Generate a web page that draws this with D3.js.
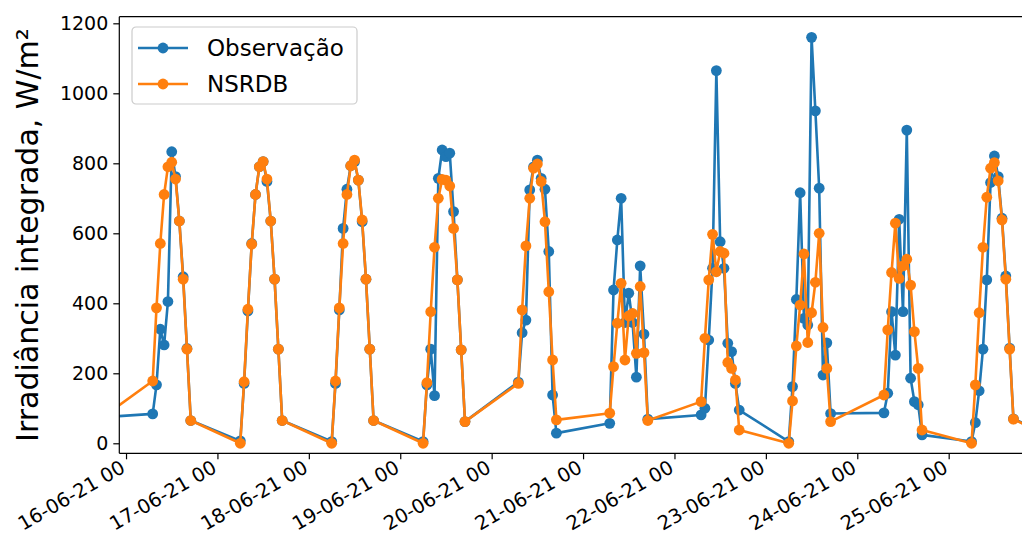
<!DOCTYPE html>
<html>
<head>
<meta charset="utf-8">
<script src="https://cdn.jsdelivr.net/npm/d3@7"></script>
<style>
  body { margin: 0; background: #fff; }
  text { font-family: "DejaVu Sans", sans-serif; fill: #000; }
</style>
</head>
<body>
<svg id="chart" width="1022" height="537"></svg>
<script>
// Hourly timestamps (UTC) of the daytime samples
const timestamps = [
  "2021-06-15 17",
  "2021-06-16 07","2021-06-16 08","2021-06-16 09","2021-06-16 10","2021-06-16 11","2021-06-16 12","2021-06-16 13","2021-06-16 14","2021-06-16 15","2021-06-16 16","2021-06-16 17",
  "2021-06-17 06","2021-06-17 07","2021-06-17 08","2021-06-17 09","2021-06-17 10","2021-06-17 11","2021-06-17 12","2021-06-17 13","2021-06-17 14","2021-06-17 15","2021-06-17 16","2021-06-17 17",
  "2021-06-18 06","2021-06-18 07","2021-06-18 08","2021-06-18 09","2021-06-18 10","2021-06-18 11","2021-06-18 12","2021-06-18 13","2021-06-18 14","2021-06-18 15","2021-06-18 16","2021-06-18 17",
  "2021-06-19 06","2021-06-19 07","2021-06-19 08","2021-06-19 09","2021-06-19 10","2021-06-19 11","2021-06-19 12","2021-06-19 13","2021-06-19 14","2021-06-19 15","2021-06-19 16","2021-06-19 17",
  "2021-06-20 07","2021-06-20 08","2021-06-20 09","2021-06-20 10","2021-06-20 11","2021-06-20 12","2021-06-20 13","2021-06-20 14","2021-06-20 15","2021-06-20 16","2021-06-20 17",
  "2021-06-21 07","2021-06-21 08","2021-06-21 09","2021-06-21 10","2021-06-21 11","2021-06-21 12","2021-06-21 13","2021-06-21 14","2021-06-21 15","2021-06-21 16","2021-06-21 17",
  "2021-06-22 07","2021-06-22 08","2021-06-22 09","2021-06-22 10","2021-06-22 11","2021-06-22 12","2021-06-22 13","2021-06-22 14","2021-06-22 15","2021-06-22 16","2021-06-22 17",
  "2021-06-23 06","2021-06-23 07","2021-06-23 08","2021-06-23 09","2021-06-23 10","2021-06-23 11","2021-06-23 12","2021-06-23 13","2021-06-23 14","2021-06-23 15","2021-06-23 16","2021-06-23 17",
  "2021-06-24 07","2021-06-24 08","2021-06-24 09","2021-06-24 10","2021-06-24 11","2021-06-24 12","2021-06-24 13","2021-06-24 14","2021-06-24 15","2021-06-24 16","2021-06-24 17",
  "2021-06-25 06","2021-06-25 07","2021-06-25 08","2021-06-25 09","2021-06-25 10","2021-06-25 11","2021-06-25 12","2021-06-25 13","2021-06-25 14","2021-06-25 15","2021-06-25 16","2021-06-25 17",
  "2021-06-26 06"
];

// Measured irradiance (W/m²)
const observacao = [
  74,
  84, 167, 326, 281, 405, 833, 762, 635, 476, 271, 65,
  7, 171, 378, 571, 711, 790, 805, 748, 635, 469, 269, 65,
  5, 171, 381, 614, 726, 793, 805, 752, 633, 469, 269, 65,
  5, 167, 269, 136, 757, 838, 819, 829, 662, 467, 267, 62,
  175, 316, 352, 724, 790, 809, 757, 726, 548, 138, 29,
  57, 438, 581, 700, 345, 429, 345, 189, 507, 312, 69,
  81, 100, 295, 500, 1065, 576, 500, 286, 262, 171, 95,
  5, 162, 411, 716, 357, 338, 1160, 950, 729, 195, 287, 85,
  87, 143, 376, 252, 640, 376, 895, 186, 119, 110, 24,
  5, 59, 150, 269, 467, 745, 821, 762, 643, 478, 272, 70,
  5
];

// NSRDB irradiance (W/m²)
const nsrdb = [
  68,
  178, 387, 571, 711, 790, 803, 755, 635, 469, 269, 65,
  0, 176, 383, 569, 711, 790, 805, 755, 635, 469, 269, 65,
  0, 178, 387, 571, 711, 793, 809, 752, 638, 469, 269, 65,
  0, 173, 376, 560, 700, 754, 752, 735, 614, 467, 267, 62,
  171, 381, 564, 700, 786, 798, 748, 633, 433, 238, 67,
  86, 219, 343, 457, 238, 364, 371, 257, 448, 259, 65,
  119, 300, 467, 597, 490, 548, 543, 231, 214, 181, 38,
  0, 121, 278, 395, 541, 288, 373, 460, 600, 331, 214, 62,
  138, 324, 488, 629, 471, 507, 526, 452, 319, 214, 38,
  0, 167, 373, 560, 703, 786, 802, 750, 638, 469, 269, 69,
  0
];

const seriesNames = ["Observação", "NSRDB"];
const seriesColors = ["#1f77b4", "#ff7f0e"];
const xTickDays = ["2021-06-16","2021-06-17","2021-06-18","2021-06-19","2021-06-20",
                   "2021-06-21","2021-06-22","2021-06-23","2021-06-24","2021-06-25"];
const yTicks = [0, 200, 400, 600, 800, 1000, 1200];
const yLabel = "Irradiância integrada, W/m²";
const xDomain = ["2021-06-15 22:14", "2021-06-25 20:18"];
const yDomain = [-28.6, 1218.9];

const parseHour = d3.utcParse("%Y-%m-%d %H");
const parseMin = d3.utcParse("%Y-%m-%d %H:%M");
const parseDay = d3.utcParse("%Y-%m-%d");

const plot = { left: 119.3, right: 1026, top: 16.7, bottom: 453.3 };

const svg = d3.select("#chart");

const x = d3.scaleUtc()
  .domain(xDomain.map(parseMin))
  .range([plot.left, plot.right]);
const y = d3.scaleLinear()
  .domain(yDomain)
  .range([plot.bottom, plot.top]);

const times = timestamps.map(parseHour);
const series = [observacao, nsrdb].map((vals, i) => ({
  name: seriesNames[i],
  color: seriesColors[i],
  points: vals.map((v, j) => ({ t: times[j], v }))
}));

svg.append("defs").append("clipPath").attr("id", "plot-clip")
  .append("rect")
  .attr("x", plot.left).attr("y", plot.top)
  .attr("width", plot.right - plot.left).attr("height", plot.bottom - plot.top);

const line = d3.line().x(d => x(d.t)).y(d => y(d.v));

const marks = svg.append("g").attr("clip-path", "url(#plot-clip)");
series.forEach(s => {
  const g = marks.append("g");
  g.append("path")
    .datum(s.points)
    .attr("d", line)
    .attr("fill", "none")
    .attr("stroke", s.color)
    .attr("stroke-width", 2.6)
    .attr("stroke-linejoin", "round")
    .attr("stroke-linecap", "square");
  g.selectAll("circle")
    .data(s.points)
    .join("circle")
    .attr("cx", d => x(d.t))
    .attr("cy", d => y(d.v))
    .attr("r", 5.4)
    .attr("fill", s.color);
});

// Frame
[[plot.left, plot.top, plot.left, plot.bottom],
 [plot.left, plot.bottom, plot.right, plot.bottom],
 [plot.left, plot.top, plot.right, plot.top],
 [plot.right, plot.top, plot.right, plot.bottom]].forEach(([x1, y1, x2, y2]) => {
  svg.append("line").attr("x1", x1).attr("y1", y1).attr("x2", x2).attr("y2", y2)
    .attr("stroke", "#000").attr("stroke-width", 1.2);
});

// Y axis
const yAxis = svg.append("g")
  .attr("transform", `translate(${plot.left},0)`)
  .call(d3.axisLeft(y).tickValues(yTicks).tickSize(6).tickPadding(5).tickFormat(d3.format("d")));
yAxis.select(".domain").remove();
yAxis.selectAll(".tick line").attr("stroke", "#000").attr("stroke-width", 1.2);
yAxis.selectAll(".tick text")
  .attr("font-size", "19px")
  .attr("font-family", "DejaVu Sans, sans-serif")
  .attr("fill", "#000");

// X axis: day ticks with labels rotated 30°
const xAxis = svg.append("g")
  .attr("transform", `translate(0,${plot.bottom})`)
  .call(d3.axisBottom(x).tickValues(xTickDays.map(parseDay)).tickSize(6)
    .tickFormat(d3.utcFormat("%d-%m-%y %H")));
xAxis.select(".domain").remove();
xAxis.selectAll(".tick line").attr("stroke", "#000").attr("stroke-width", 1.2);
xAxis.selectAll(".tick text")
  .attr("font-size", "19.5px")
  .attr("font-family", "DejaVu Sans, sans-serif")
  .attr("fill", "#000")
  .attr("text-anchor", "end")
  .attr("dy", null)
  .attr("x", 0)
  .attr("y", 18)
  .attr("transform", "rotate(-30, 0, 18)");

// Y axis title
svg.append("text")
  .attr("transform", `translate(38, ${(plot.top + plot.bottom) / 2}) rotate(-90)`)
  .attr("text-anchor", "middle")
  .attr("font-size", "30px")
  .text(yLabel);

// Legend
const legend = svg.append("g").attr("transform", "translate(132,27)");
legend.append("rect")
  .attr("x", 0).attr("y", 0).attr("width", 225).attr("height", 77)
  .attr("rx", 4).attr("ry", 4)
  .attr("fill", "#fff").attr("fill-opacity", 0.8)
  .attr("stroke", "#cccccc").attr("stroke-width", 1.2);
series.forEach((s, i) => {
  const cy = 21 + i * 36;
  legend.append("line")
    .attr("x1", 6).attr("x2", 56).attr("y1", cy).attr("y2", cy)
    .attr("stroke", s.color).attr("stroke-width", 2.6);
  legend.append("circle").attr("cx", 31).attr("cy", cy).attr("r", 5.4).attr("fill", s.color);
  legend.append("text")
    .attr("x", 75).attr("y", cy + 8)
    .attr("font-size", "23px")
    .text(s.name);
});
</script>
</body>
</html>
